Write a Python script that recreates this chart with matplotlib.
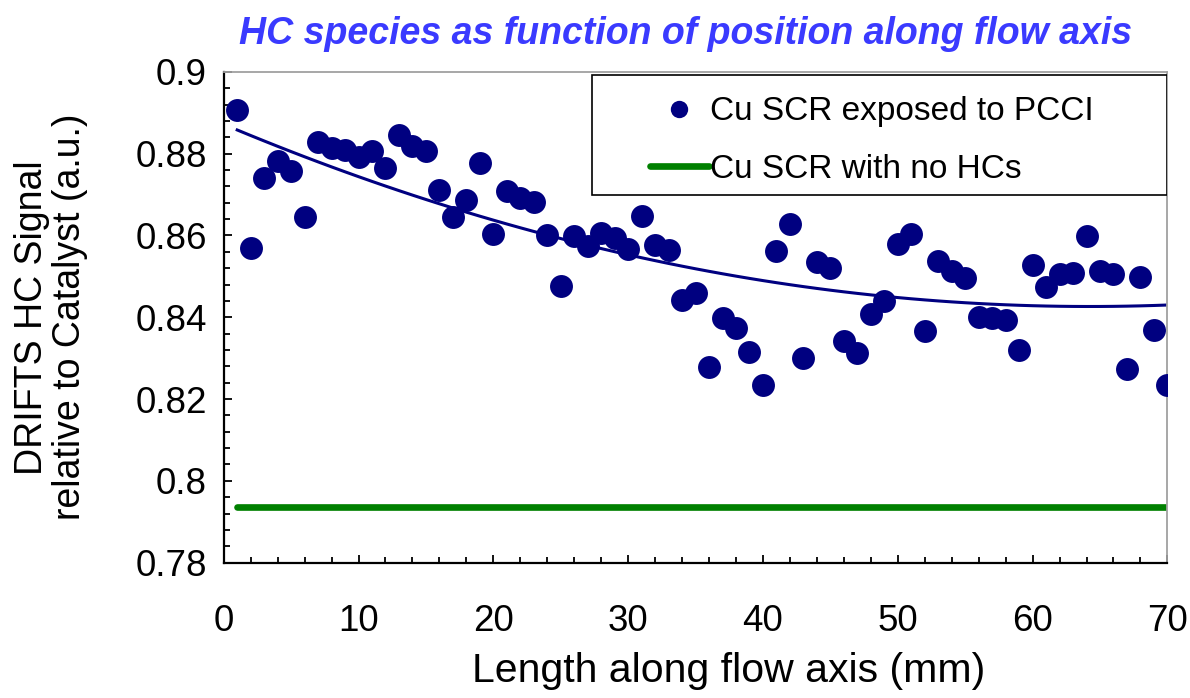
import numpy as np
import matplotlib
matplotlib.use("Agg")
import matplotlib.pyplot as plt
import matplotlib.patches as patches
from matplotlib.ticker import MultipleLocator

plt.rcParams['font.family'] = ['Liberation Sans', 'DejaVu Sans']

# position along flow axis (mm)
length_mm = np.arange(1, 71)

# DRIFTS HC signal, Cu SCR exposed to PCCI
hc_signal = [0.8906, 0.8569, 0.8740, 0.8781, 0.8757, 0.8645, 0.8828, 0.8814, 0.8810, 0.8793,
             0.8807, 0.8765, 0.8845, 0.8818, 0.8807, 0.8712, 0.8646, 0.8687, 0.8777, 0.8604,
             0.8708, 0.8691, 0.8683, 0.8602, 0.8477, 0.8599, 0.8573, 0.8606, 0.8593, 0.8566,
             0.8648, 0.8577, 0.8565, 0.8442, 0.8459, 0.8279, 0.8397, 0.8373, 0.8314, 0.8234,
             0.8562, 0.8628, 0.8300, 0.8536, 0.8520, 0.8343, 0.8312, 0.8408, 0.8440, 0.8580,
             0.8604, 0.8366, 0.8538, 0.8513, 0.8495, 0.8401, 0.8397, 0.8393, 0.8320, 0.8528,
             0.8475, 0.8506, 0.8509, 0.8599, 0.8513, 0.8506, 0.8273, 0.8498, 0.8369, 0.8234]

# reference level, Cu SCR with no HCs
no_hc_level = 0.7935

# polynomial trendline through the PCCI data
coef = np.polyfit(length_mm, hc_signal, 2)
trend = np.polyval(coef, length_mm)

fig = plt.figure(figsize=(11.9, 6.98), dpi=100)
ax = fig.add_axes([0.188, 0.194, 0.793, 0.703])

ax.plot(length_mm, hc_signal, 'o', color='#000080', markersize=16.5,
        markeredgewidth=0, label='Cu SCR exposed to PCCI', zorder=3)
ax.plot(length_mm, trend, '-', color='#000080', linewidth=2.2, zorder=2)
ax.plot(length_mm, np.full(len(length_mm), no_hc_level), '-', color='#008000',
        linewidth=4.8, solid_capstyle='round', label='Cu SCR with no HCs', zorder=2)

ax.set_xlim(0, 70)
ax.set_ylim(0.78, 0.9)
ax.xaxis.set_major_locator(MultipleLocator(10))
ax.xaxis.set_minor_locator(MultipleLocator(2))
ax.yaxis.set_minor_locator(MultipleLocator(0.004))
ax.set_yticks([0.78, 0.8, 0.82, 0.84, 0.86, 0.88, 0.9])
ax.set_yticklabels(['0.78', '0.8', '0.82', '0.84', '0.86', '0.88', '0.9'])

ax.tick_params(which='both', direction='in', labelsize=26.5, width=1.3, top=False, right=False)
ax.tick_params(which='major', length=6)
ax.tick_params(which='minor', length=4.5)
ax.tick_params(axis='y', pad=12)
ax.tick_params(axis='x', pad=30)

for s in ['left', 'bottom']:
    ax.spines[s].set_linewidth(1.6)
    ax.spines[s].set_color('black')
for s in ['top', 'right']:
    ax.spines[s].set_linewidth(1.3)
    ax.spines[s].set_color('#a0a0a0')

ax.set_xlabel('Length along flow axis (mm)', fontsize=29.5, labelpad=9)
ax.xaxis.label.set_x(0.535)
ax.set_ylabel('DRIFTS HC Signal\nrelative to Catalyst (a.u.)', fontsize=27,
              labelpad=34, linespacing=1.1)
ax.set_title('HC species as function of position along flow axis', fontsize=27,
             fontweight='bold', fontstyle='italic', color='#3a3aff', pad=20, x=0.489)

# legend box (Excel style, wide on the left)
box = patches.Rectangle((0.390, 0.749), 0.610, 0.245, transform=ax.transAxes,
                        facecolor='white', edgecolor='black', linewidth=1.2, zorder=4)
ax.add_patch(box)
leg = ax.legend(loc='center', bbox_to_anchor=(0.687, 0.860), fontsize=24,
                frameon=False, handlelength=1.75, handletextpad=0.05,
                labelspacing=0.8, borderpad=0)
leg.set_zorder(5)
for h in leg.legend_handles:
    if h.get_marker() == 'o':
        h.set_markersize(12.5)

fig.savefig('out.png', dpi=100)
